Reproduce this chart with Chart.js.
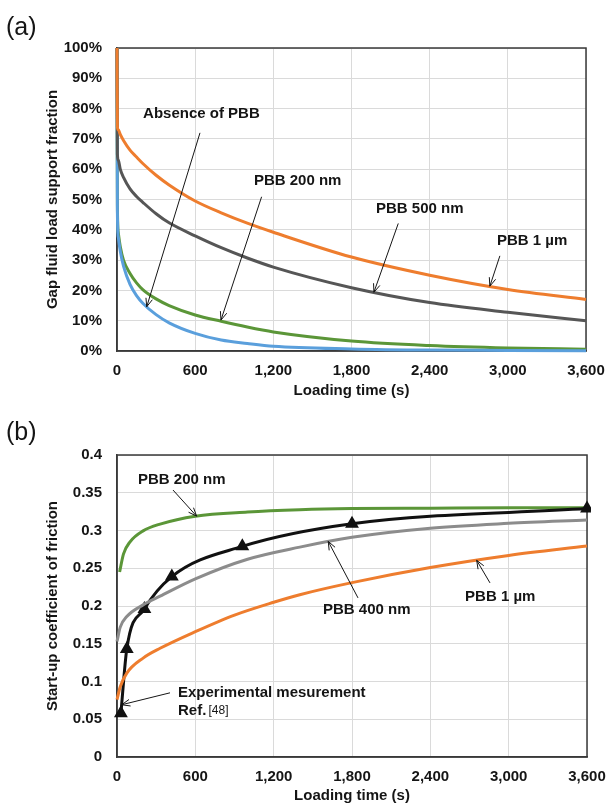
<!DOCTYPE html>
<html>
<head>
<meta charset="utf-8">
<script src="https://cdn.jsdelivr.net/npm/chart.js@4.4.1/dist/chart.umd.min.js"></script>
<style>
  html, body { margin: 0; padding: 0; background: #fff; }
  #wrap { position: relative; width: 609px; height: 805px; }
  canvas { position: absolute; left: 0; }
  #chartA { top: 0; }
  #chartB { top: 400px; }
</style>
</head>
<body>
<div id="wrap">
  <canvas id="chartA" width="609" height="400"></canvas>
  <canvas id="chartB" width="609" height="405"></canvas>
</div>
<script>
// ---- panel (a): gap fluid load support fraction (%) vs loading time (s)
const timeA    = [0, 3, 10, 25, 50, 100, 150, 200, 300, 400, 600, 800, 1000, 1200, 1800, 2400, 3000, 3600];
const pbb1umA  = [100, 74, 73, 71.5, 69.5, 66.3, 64, 61.8, 58, 54.8, 49.5, 45.6, 42.2, 39.2, 31, 25, 20.3, 17];
const pbb500A  = [100, 65, 63, 60, 57.3, 53.5, 51, 49, 45.3, 42.3, 38, 34.1, 30.7, 27.7, 20.9, 16, 12.8, 10];
const pbb200A  = [100, 48, 39, 34.5, 30, 25.6, 22.5, 20.2, 17.2, 15, 11.9, 9.8, 7.9, 6.3, 3.3, 1.8, 1.0, 0.6];
const absenceA = [100, 46, 37.5, 33, 28, 22, 18.3, 15.7, 12, 9.3, 5.8, 3.6, 2.5, 1.6, 0.7, 0.3, 0.2, 0.1];

// ---- panel (b): start-up coefficient of friction vs loading time (s)
const time200B = [20, 50, 100, 200, 330, 600, 1000, 1400, 1800, 2400, 3000, 3600];
const pbb200B  = [0.245, 0.269, 0.285, 0.2995, 0.3085, 0.319, 0.3245, 0.3275, 0.329, 0.3295, 0.33, 0.33];
const time400B = [0, 25, 75, 200, 330, 600, 1000, 1400, 1800, 2400, 3000, 3600];
const pbb400B  = [0.153, 0.172, 0.186, 0.2015, 0.213, 0.236, 0.262, 0.278, 0.291, 0.303, 0.3095, 0.314];
const time1umB = [0, 25, 75, 200, 330, 600, 900, 1200, 1400, 1800, 2400, 3000, 3600];
const pbb1umB  = [0.076, 0.093, 0.111, 0.131, 0.144, 0.166, 0.188, 0.205, 0.215, 0.231, 0.251, 0.267, 0.2795];
const timeExpB = [30, 75, 210, 420, 960, 1800, 3600];
const expB     = [0.058, 0.143, 0.196, 0.239, 0.279, 0.309, 0.329];

// ---- ticks
const timeTicks = [0, 600, 1200, 1800, 2400, 3000, 3600];
const fracTicks = [0, 10, 20, 30, 40, 50, 60, 70, 80, 90, 100];
const cofTicks  = [0, 0.05, 0.1, 0.15, 0.2, 0.25, 0.3, 0.35, 0.4];

// ---- callouts, in data coordinates
const notesA = [
  { text: 'Absence of PBB', at: [200, 78.2], from: [637, 72], to: [228, 14.6] },
  { text: 'PBB 200 nm', at: [1051, 56.1], from: [1110, 50.9], to: [798, 10.2] },
  { text: 'PBB 500 nm', at: [1988, 46.9], from: [2159, 42.1], to: [1972, 19.4] },
  { text: 'PBB 1 µm', at: [2916, 36.3], from: [2939, 31.4], to: [2862, 21.4] }
];
const notesB = [
  { text: 'PBB 200 nm', at: [161, 0.3668], from: [429, 0.3536], to: [610, 0.319] },
  { text: 'PBB 400 nm', at: [1578, 0.1948], from: [1846, 0.2107], to: [1618, 0.2855] },
  { text: 'PBB 1 µm', at: [2666, 0.212], from: [2857, 0.2306], to: [2755, 0.2605] },
  { text: 'Experimental mesurement', at: [467, 0.085], from: [406, 0.085], to: [36, 0.0692] },
  { text: 'Ref.', sup: '[48]', at: [467, 0.0612] }
];

const FONT = '"Liberation Sans", Arial, sans-serif';
const tickFont = { family: FONT, size: 15, weight: 'bold' };
const ink = '#151515';

const pairs = (xs, ys) => xs.map((t, i) => ({ x: t, y: ys[i] }));

function arrow(ctx, x1, y1, x2, y2) {
  const ang = Math.atan2(y2 - y1, x2 - x1);
  ctx.beginPath();
  ctx.moveTo(x1, y1);
  ctx.lineTo(x2, y2);
  ctx.moveTo(x2 - 9 * Math.cos(ang - 0.38), y2 - 9 * Math.sin(ang - 0.38));
  ctx.lineTo(x2, y2);
  ctx.lineTo(x2 - 9 * Math.cos(ang + 0.38), y2 - 9 * Math.sin(ang + 0.38));
  ctx.stroke();
}

const decor = {
  id: 'decor',
  beforeDatasetsDraw(chart) {
    const { ctx, chartArea: a } = chart;
    ctx.save();
    ctx.strokeStyle = '#3a3a3a';
    ctx.lineWidth = 1.5;
    ctx.strokeRect(a.left, a.top, a.right - a.left, a.bottom - a.top);
    ctx.restore();
  },
  afterDatasetsDraw(chart, args, opts) {
    const { ctx, scales: { x, y } } = chart;
    ctx.save();
    ctx.fillStyle = ink;
    ctx.strokeStyle = ink;
    ctx.lineWidth = 1;
    ctx.textBaseline = 'middle';
    for (const n of opts.notes) {
      const px = x.getPixelForValue(n.at[0]);
      const py = y.getPixelForValue(n.at[1]);
      ctx.font = 'bold 15px ' + FONT;
      ctx.fillText(n.text, px, py);
      if (n.sup) {
        const w = ctx.measureText(n.text + ' ').width;
        ctx.font = '12px ' + FONT;
        ctx.fillText(n.sup, px + w - 2, py);
      }
      if (n.from) {
        arrow(ctx, x.getPixelForValue(n.from[0]), y.getPixelForValue(n.from[1]),
                   x.getPixelForValue(n.to[0]), y.getPixelForValue(n.to[1]));
      }
    }
    ctx.font = '25px ' + FONT;
    ctx.fillText(opts.label, 6, opts.labelY);
    ctx.restore();
  }
};

function timeAxis(height) {
  return {
    type: 'linear', min: 0, max: 3600,
    afterBuildTicks: s => { s.ticks = timeTicks.map(v => ({ value: v })); },
    ticks: { color: ink, font: tickFont, padding: 11, maxRotation: 0, autoSkip: false,
             callback: v => v.toLocaleString('en-US') },
    grid: { color: '#dadada', lineWidth: 1, drawTicks: false },
    border: { color: '#3a3a3a', width: 1.5 },
    title: { display: true, text: 'Loading time (s)', color: ink, font: tickFont, padding: 0 },
    afterFit: s => { s.height = height; s.paddingRight = 0; s.paddingLeft = 0; }
  };
}

function valueAxis(min, max, tickList, fmt, title) {
  return {
    type: 'linear', min: min, max: max,
    afterBuildTicks: s => { s.ticks = tickList.map(v => ({ value: v })); },
    ticks: { color: ink, font: tickFont, padding: 15, autoSkip: false, callback: fmt },
    grid: { color: '#dadada', lineWidth: 1, drawTicks: false },
    border: { color: '#3a3a3a', width: 1.5 },
    title: { display: true, text: title, color: ink, font: tickFont, padding: { top: 44, bottom: 0 } },
    afterFit: s => { s.width = 117; s.paddingTop = 0; s.paddingBottom = 0; }
  };
}

function curve(data, color, width) {
  return {
    data: data, borderColor: color, backgroundColor: color, borderWidth: width,
    pointRadius: 0, cubicInterpolationMode: 'monotone', fill: false, clip: 4
  };
}

new Chart(document.getElementById('chartA'), {
  type: 'line',
  data: {
    datasets: [
      curve(pairs(timeA, pbb1umA), '#ee7d2e', 3),
      curve(pairs(timeA, pbb500A), '#565656', 3),
      curve(pairs(timeA, absenceA), '#5a9fdc', 3),
      curve(pairs(timeA, pbb200A), '#5b9638', 3)
    ]
  },
  options: {
    responsive: false, animation: false, devicePixelRatio: 1,
    layout: { padding: { top: 48, right: 23, left: 0, bottom: 0 } },
    scales: {
      x: timeAxis(49),
      y: valueAxis(0, 100, fracTicks, v => v + '%', 'Gap fluid load support fraction')
    },
    plugins: {
      legend: { display: false }, tooltip: { enabled: false },
      decor: { notes: notesA, label: '(a)', labelY: 28 }
    }
  },
  plugins: [decor]
});

const expSeries = curve(pairs(timeExpB, expB), '#111111', 3);
expSeries.pointStyle = 'triangle';
expSeries.pointRadius = 5;
expSeries.pointBackgroundColor = '#111111';

new Chart(document.getElementById('chartB'), {
  type: 'line',
  data: {
    datasets: [
      curve(pairs(time1umB, pbb1umB), '#ee7d2e', 3),
      curve(pairs(time400B, pbb400B), '#8c8c8c', 3),
      expSeries,
      curve(pairs(time200B, pbb200B), '#5b9638', 3)
    ]
  },
  options: {
    responsive: false, animation: false, devicePixelRatio: 1,
    layout: { padding: { top: 55, right: 22, left: 0, bottom: 0 } },
    scales: {
      x: timeAxis(48),
      y: valueAxis(0, 0.4, cofTicks, v => String(Number(v.toFixed(2))), 'Start-up coefficient of friction')
    },
    plugins: {
      legend: { display: false }, tooltip: { enabled: false },
      decor: { notes: notesB, label: '(b)', labelY: 33 }
    }
  },
  plugins: [decor]
});
</script>
</body>
</html>
